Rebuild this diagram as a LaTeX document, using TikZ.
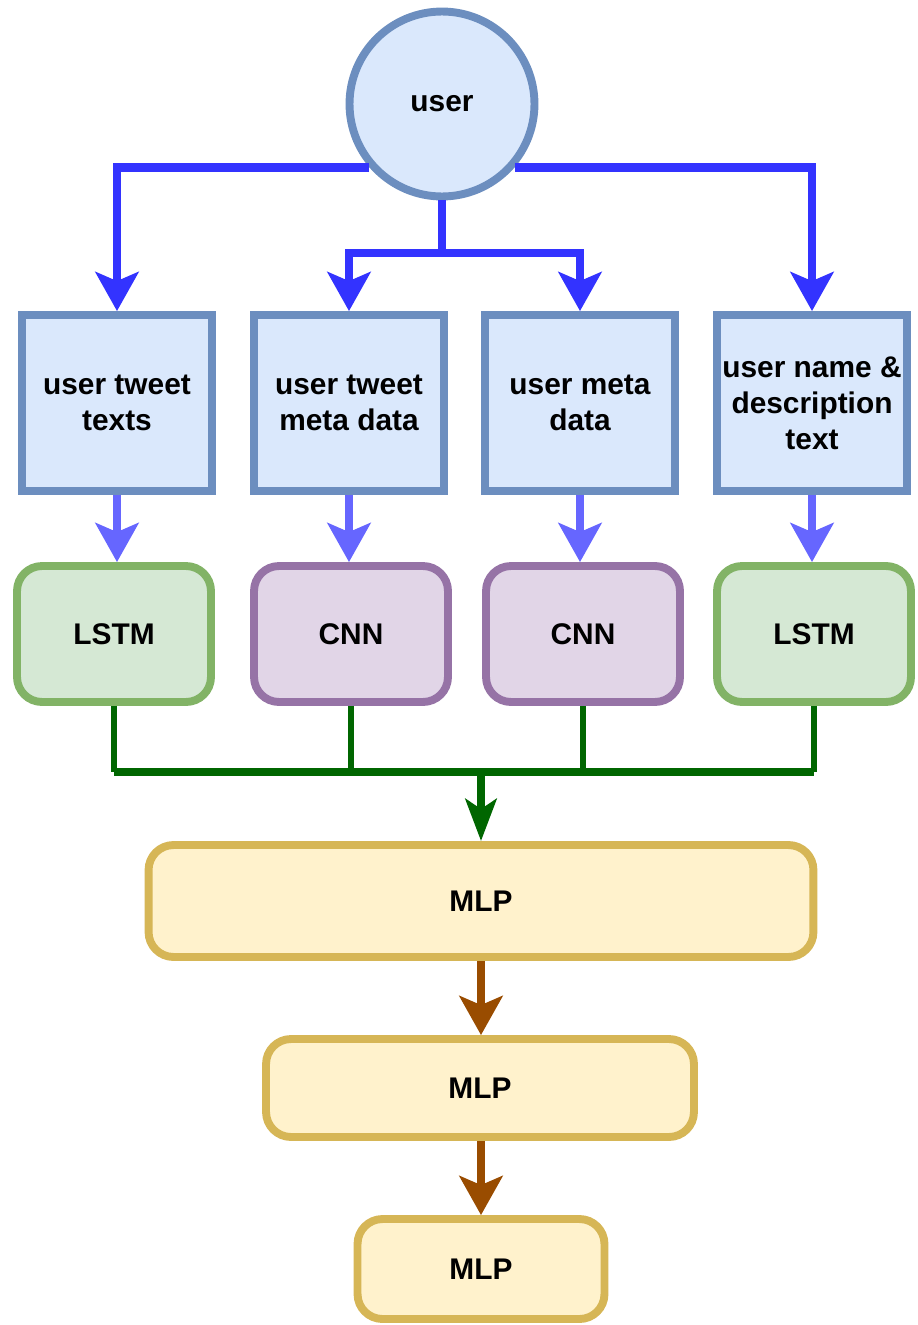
\documentclass[tikz,border=0pt]{standalone}
\usepackage{fontspec}
\setmainfont{Liberation Sans}
\definecolor{srcfill}{HTML}{DAE8FC}
\definecolor{srcedge}{HTML}{6C8EBF}
\definecolor{lstmfill}{HTML}{D5E8D4}
\definecolor{lstmedge}{HTML}{82B366}
\definecolor{cnnfill}{HTML}{E1D5E7}
\definecolor{cnnedge}{HTML}{9673A6}
\definecolor{mlpfill}{HTML}{FFF2CC}
\definecolor{mlpedge}{HTML}{D6B656}
\definecolor{splitblue}{HTML}{3333FF}
\definecolor{feedblue}{HTML}{6666FF}
\definecolor{mergegreen}{HTML}{006600}
\definecolor{mlpbrown}{HTML}{994C00}
\usetikzlibrary{arrows.meta}

\begin{document}
\begin{tikzpicture}[x=0.02cm, y=-0.02cm,
  every node/.style={font=\fontsize{17}{20.4}\selectfont\bfseries, align=center, inner sep=0pt},
  source/.style={draw=srcedge, fill=srcfill, line width=4.5pt, minimum width=3.8cm, minimum height=3.52cm},
  encoder/.style={rounded corners=0.5cm, line width=4.5pt, minimum width=3.88cm, minimum height=2.72cm},
  lstmbox/.style={encoder, draw=lstmedge, fill=lstmfill},
  cnnbox/.style={encoder, draw=cnnedge, fill=cnnfill},
  mlpbox/.style={draw=mlpedge, fill=mlpfill, rounded corners=0.5cm, line width=4.5pt},
  bigtip/.style={-{Stealth[length=0.78cm, width=0.86cm, inset=0.18cm]}},
  split/.style={draw=splitblue, line width=5.1pt, bigtip},
  feed/.style={draw=feedblue, line width=5.1pt, bigtip},
  mergeline/.style={draw=mergegreen, line width=3.4pt},
  flow/.style={draw=mlpbrown, line width=5.1pt, bigtip}
]
  \useasboundingbox (0,0) rectangle (917,1325);

  % user and its four data sources
  \node[circle, draw=srcedge, fill=srcfill, line width=4.5pt, minimum size=3.7cm] (user) at (442,104) {user};
  \node[source] (tweettext) at (117,403) {user tweet\\texts};
  \node[source] (tweetmeta) at (349,403) {user tweet\\meta data};
  \node[source] (usermeta) at (580,403) {user meta\\data};
  \node[source] (userdesc) at (812,403) {user name \&\\description\\text};

  % encoders
  \node[lstmbox] (lstmA) at (114,634) {LSTM};
  \node[cnnbox] (cnnA) at (351,634) {CNN};
  \node[cnnbox] (cnnB) at (583,634) {CNN};
  \node[lstmbox] (lstmB) at (814,634) {LSTM};

  % MLP stack
  \node[mlpbox, minimum width=13.3cm, minimum height=2.24cm] (mlpA) at (481,901) {MLP};
  \node[mlpbox, minimum width=8.56cm, minimum height=1.96cm] (mlpB) at (480,1088) {MLP};
  \node[mlpbox, minimum width=4.94cm, minimum height=2cm] (mlpC) at (481,1269) {MLP};

  \coordinate (fork) at (442,253);
  \coordinate (merge) at (481,772);

  % user -> sources
  \draw[split] (user.221) -| (tweettext.north);
  \draw[split] (user.-41) -| (userdesc.north);
  \draw[split, -] (user.south) -- (fork);
  \draw[split] (fork) -| (tweetmeta.north);
  \draw[split] (fork) -| (usermeta.north);

  % sources -> encoders
  \draw[feed] (tweettext.south) -- (tweettext.south |- lstmA.north);
  \draw[feed] (tweetmeta.south) -- (tweetmeta.south |- cnnA.north);
  \draw[feed] (usermeta.south) -- (usermeta.south |- cnnB.north);
  \draw[feed] (userdesc.south) -- (userdesc.south |- lstmB.north);

  % encoders -> MLP
  \draw[mergeline] (lstmA.south) -- (lstmA.south |- merge);
  \draw[mergeline] (cnnA.south) -- (cnnA.south |- merge);
  \draw[mergeline] (cnnB.south) -- (cnnB.south |- merge);
  \draw[mergeline] (lstmB.south) -- (lstmB.south |- merge);
  \draw[mergeline, line width=5.1pt, line cap=square] (lstmA.south |- merge) -- (lstmB.south |- merge);
  \draw[draw=mergegreen, line width=4.5pt, -{Stealth[length=0.84cm, width=0.62cm, inset=0.2cm]}] (merge) -- (mlpA.north);

  \draw[flow] (mlpA.south) -- (mlpA.south |- mlpB.north);
  \draw[flow] (mlpB.south -| mlpA.south) -- (mlpA.south |- mlpC.north);
\end{tikzpicture}
\end{document}
